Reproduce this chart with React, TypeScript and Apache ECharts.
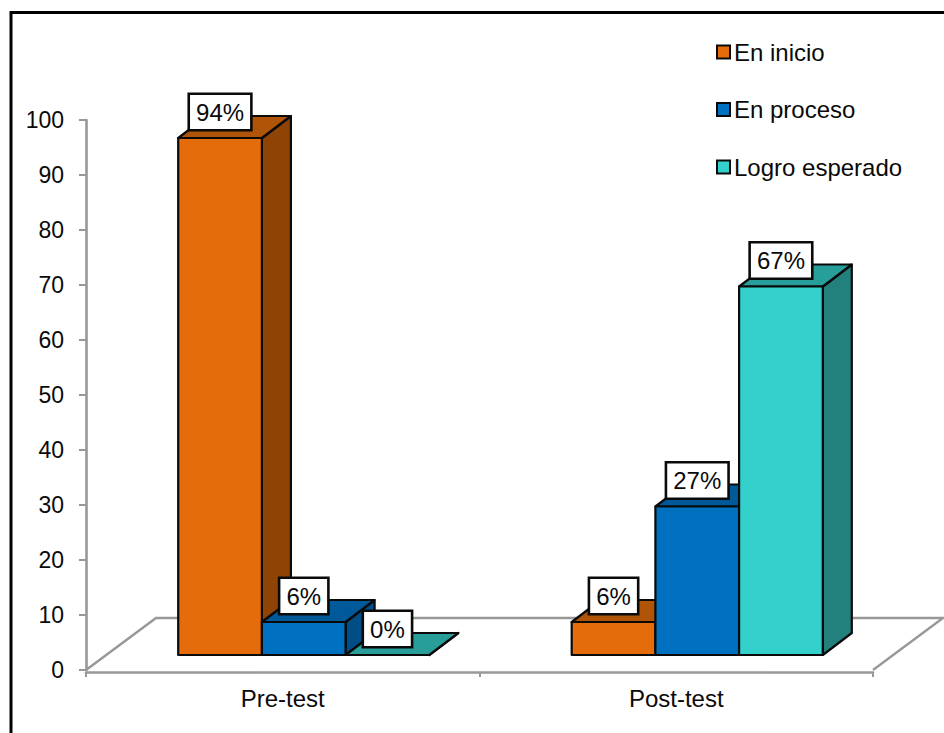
import React, { useEffect, useRef } from "react";
import * as echarts from "echarts";

const categories = ["Pre-test", "Post-test"];
const seriesNames = ["En inicio", "En proceso", "Logro esperado"];
const enInicio = [94, 6];
const enProceso = [6, 27];
const logroEsperado = [0, 67];

const FONT = '"Liberation Sans", Arial, sans-serif';
const GRAY = "#989898";
const INK = "#0a0a0a";
const TEXT_SIZE = 24;

// Fill colours of the box faces: front, top, side.
const faces = [
  { front: "#E46C0A", top: "#B05508", side: "#8F4406" },
  { front: "#0070C0", top: "#005A9A", side: "#004E85" },
  { front: "#33D0CC", top: "#289E9B", side: "#22807D" },
];

// Pseudo-3D extrusion of the bars and of the floor, in pixels.
const DEPTH_X = 29;
const DEPTH_Y = 22;
const FLOOR_X = 70;
const FLOOR_Y = 52;
const BASE_LIFT = 15;
const GROUP_SHIFT = 21;
const BAR_SHARE = 0.2127;

function boxSeries(name: string, values: number[], seriesIndex: number) {
  const c = faces[seriesIndex];
  return {
    type: "custom",
    name,
    itemStyle: { color: c.front },
    clip: false,
    data: values.map((v, i) => [i, v]),
    renderItem: (_params: any, api: any) => {
      const cat = api.value(0);
      const val = api.value(1);
      const base = api.coord([cat, 0]);
      const top = api.coord([cat, val]);
      const w = api.size([1, 0])[0] * BAR_SHARE;
      const x0 = base[0] + GROUP_SHIFT + (seriesIndex - 1.5) * w;
      const x1 = x0 + w;
      const yb = base[1] - BASE_LIFT;
      const yt = top[1] - BASE_LIFT;
      const stroke = { stroke: INK, lineWidth: 2.2, lineJoin: "round" };
      return {
        type: "group",
        children: [
          {
            type: "polygon",
            shape: { points: [[x1, yb], [x1 + DEPTH_X, yb - DEPTH_Y], [x1 + DEPTH_X, yt - DEPTH_Y], [x1, yt]] },
            style: { fill: c.side, ...stroke },
          },
          {
            type: "polygon",
            shape: { points: [[x0, yt], [x1, yt], [x1 + DEPTH_X, yt - DEPTH_Y], [x0 + DEPTH_X, yt - DEPTH_Y]] },
            style: { fill: c.top, ...stroke },
          },
          {
            type: "rect",
            shape: { x: x0, y: yt, width: w, height: yb - yt },
            style: { fill: c.front, ...stroke },
          },
          {
            type: "text",
            z2: 50,
            x: (x0 + x1) / 2,
            y: yt - 26,
            style: {
              text: `${val}%`,
              font: `${TEXT_SIZE}px ${FONT}`,
              fill: INK,
              align: "center",
              verticalAlign: "middle",
              backgroundColor: "#ffffff",
              borderColor: INK,
              borderWidth: 2.6,
              padding: [5, 6, 5, 6],
            },
          },
        ],
      };
    },
  };
}

export default function App() {
  const ref = useRef<HTMLDivElement>(null);

  useEffect(() => {
    if (!ref.current) return;
    const chart = echarts.init(ref.current, undefined, { renderer: "svg" });
    chart.setOption({
      animation: false,
      backgroundColor: "#ffffff",
      textStyle: { fontFamily: FONT },
      grid: { left: 86, top: 120, width: 787, height: 550, containLabel: false },
      legend: {
        data: seriesNames,
        orient: "vertical",
        left: 711,
        top: 35,
        icon: "rect",
        itemWidth: 13,
        itemHeight: 13,
        itemGap: 33.5,
        selectedMode: false,
        itemStyle: { borderColor: INK, borderWidth: 2 },
        textStyle: { fontFamily: FONT, fontSize: TEXT_SIZE, color: INK, padding: [0, 0, 0, -1] },
      },
      xAxis: {
        type: "category",
        data: categories,
        offset: 2,
        axisLine: { onZero: false, lineStyle: { color: GRAY, width: 2.6 } },
        axisTick: { show: true, length: 5, lineStyle: { color: GRAY, width: 2 } },
        axisLabel: { fontFamily: FONT, fontSize: TEXT_SIZE, color: INK, margin: 14 },
      },
      yAxis: {
        type: "value",
        min: 0,
        max: 100,
        interval: 10,
        axisLine: { show: true, onZero: false, lineStyle: { color: GRAY, width: 2.6 } },
        axisTick: { show: true, length: 7, lineStyle: { color: GRAY, width: 2 } },
        axisLabel: { fontFamily: FONT, fontSize: 23, color: INK, margin: 22 },
        splitLine: { show: false },
      },
      series: [
        {
          type: "custom",
          name: "floor",
          clip: false,
          silent: true,
          z: 1,
          data: [[0, 0]],
          renderItem: (params: any) => {
            const { x, y, width, height } = params.coordSys;
            const yf = y + height;
            return {
              type: "polyline",
              shape: {
                points: [
                  [x, yf],
                  [x + FLOOR_X, yf - FLOOR_Y],
                  [x + width + FLOOR_X, yf - FLOOR_Y],
                  [x + width, yf],
                ],
              },
              style: { fill: "none", stroke: GRAY, lineWidth: 2.4 },
            };
          },
        },
        boxSeries(seriesNames[0], enInicio, 0),
        boxSeries(seriesNames[1], enProceso, 1),
        boxSeries(seriesNames[2], logroEsperado, 2),
      ],
      graphic: [
        { type: "line", shape: { x1: 11, y1: 12.5, x2: 944, y2: 12.5 }, style: { stroke: "#000", lineWidth: 3 } },
        { type: "line", shape: { x1: 11, y1: 11, x2: 11, y2: 733 }, style: { stroke: "#000", lineWidth: 3 } },
      ],
    });
    return () => chart.dispose();
  }, []);

  return <div ref={ref} style={{ position: "absolute", left: 0, top: 0, width: 944, height: 733 }} />;
}
